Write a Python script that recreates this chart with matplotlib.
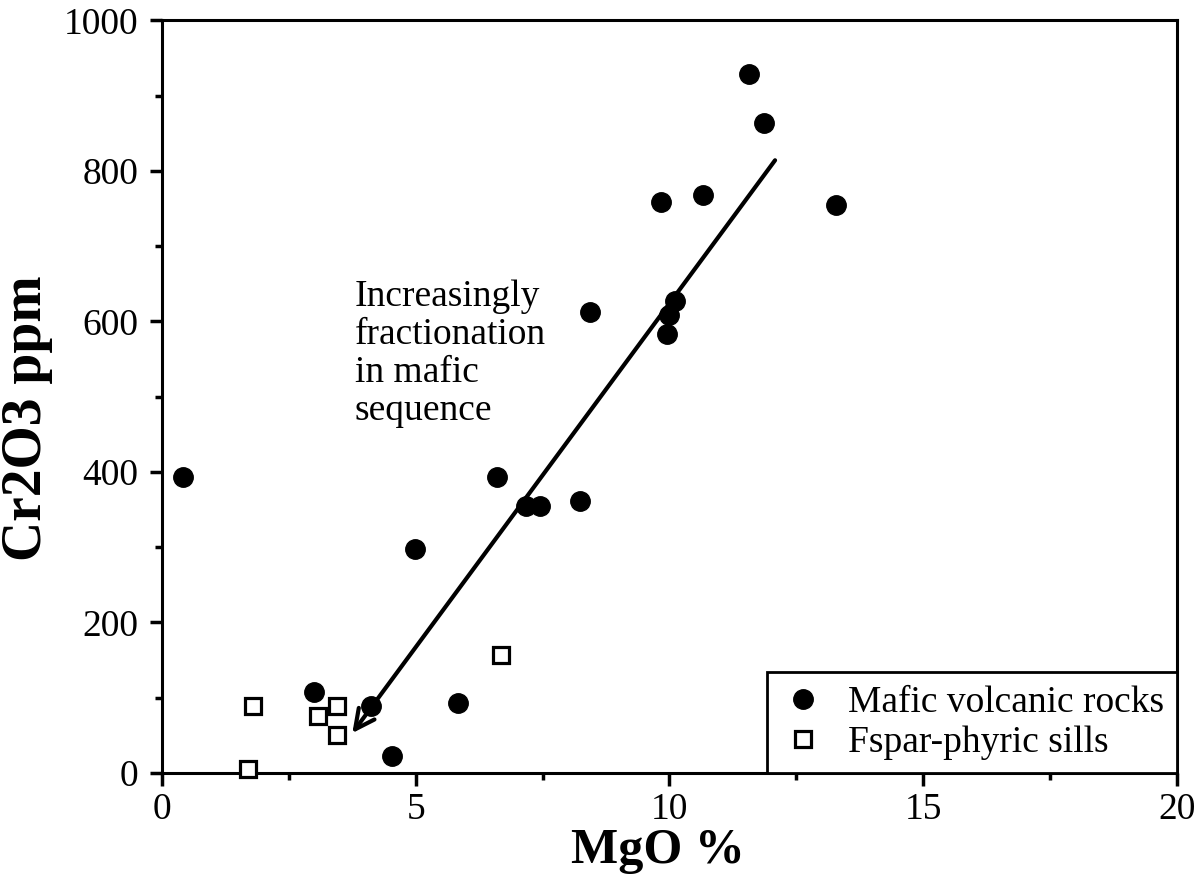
import matplotlib
matplotlib.use("Agg")
import matplotlib.pyplot as plt
from matplotlib.ticker import MultipleLocator

# Mafic volcanic rocks (filled circles)
mafic_mgo = [0.41, 2.99, 4.11, 4.54, 5.84, 4.99, 6.61, 7.18, 7.45, 8.23,
             8.43, 9.95, 10.0, 10.10, 9.84, 10.66, 11.56, 11.87, 13.28]
mafic_cr = [393, 107, 89, 23, 93, 298, 393, 355, 355, 362,
            613, 583, 608, 627, 758, 768, 928, 864, 755]

# Fspar-phyric sills (open squares)
sill_mgo = [1.69, 1.79, 3.07, 3.44, 3.44, 6.68]
sill_cr = [5, 89, 76, 89, 51, 157]

# fractionation trend arrow (start, tip) in MgO / Cr2O3 units
trend_start = (12.08, 814)
trend_tip = (3.75, 53)

note_text = "Increasingly\nfractionation\nin mafic\nsequence"

plt.rcParams["font.family"] = ["Liberation Serif", "DejaVu Serif"]

fig = plt.figure(figsize=(12.01, 8.81), dpi=100)
ax = fig.add_axes([0.1349, 0.1226, 0.8451, 0.8544])

ax.plot(mafic_mgo, mafic_cr, "o", color="black", markersize=14,
        label="Mafic volcanic rocks", clip_on=False, zorder=3)
ax.plot(sill_mgo, sill_cr, "s", markerfacecolor="white", markeredgecolor="black",
        markeredgewidth=2.3, markersize=12, label="Fspar-phyric sills",
        clip_on=False, zorder=3)

ax.annotate("", xy=trend_tip, xytext=trend_start,
            arrowprops=dict(arrowstyle="->", lw=3, color="black",
                            mutation_scale=35, shrinkA=0, shrinkB=0))

ax.text(3.8, 655, note_text, fontsize=27, va="top", ha="left", linespacing=1.13)

ax.set_xlim(0, 20)
ax.set_ylim(0, 1000)
ax.xaxis.set_major_locator(MultipleLocator(5))
ax.xaxis.set_minor_locator(MultipleLocator(2.5))
ax.yaxis.set_major_locator(MultipleLocator(200))
ax.yaxis.set_minor_locator(MultipleLocator(100))
ax.tick_params(which="both", direction="out", width=2.5, labelsize=27, top=False, right=False)
ax.tick_params(which="major", length=9, pad=8)
ax.tick_params(axis="x", which="major", pad=5)
ax.tick_params(which="minor", length=5)
for s in ax.spines.values():
    s.set_linewidth(2.2)

ax.set_xlabel("MgO %", fontsize=36, fontweight="bold")
ax.xaxis.set_label_coords(0.489, -0.073)
ax.set_ylabel("Cr2O3 ppm", fontsize=40, fontweight="bold")
ax.yaxis.set_label_coords(-0.107, 0.471)

leg = ax.legend(loc="lower right", fontsize=27, frameon=True, fancybox=False,
                borderaxespad=0, handletextpad=0.6, borderpad=0.35,
                labelspacing=0.15, handlelength=1.2)
leg.get_frame().set_edgecolor("black")
leg.get_frame().set_linewidth(2)
leg.get_frame().set_alpha(1)

fig.savefig("out.png", dpi=100)
